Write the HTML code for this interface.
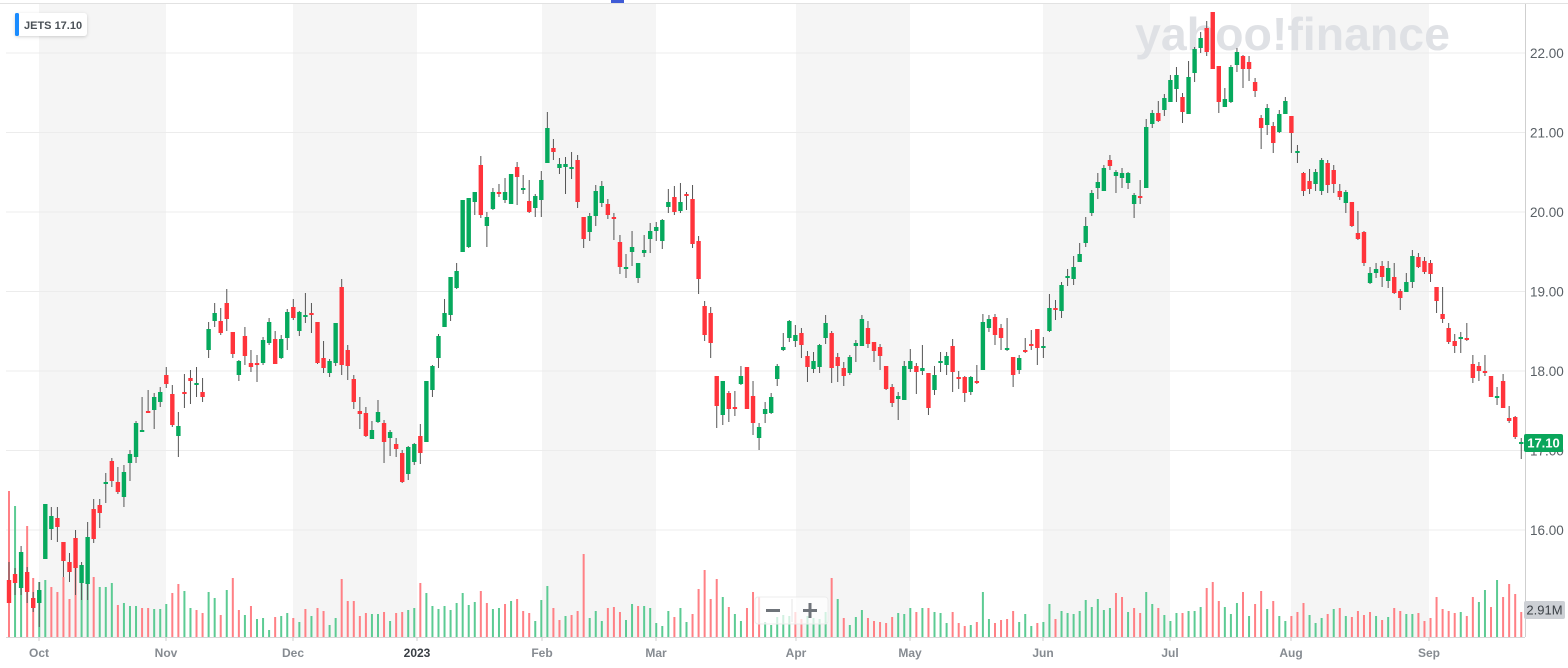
<!DOCTYPE html>
<html><head><meta charset="utf-8">
<style>
html,body{margin:0;padding:0;background:#fff;}
body{width:1568px;height:668px;overflow:hidden;position:relative;font-family:"Liberation Sans",sans-serif;}
svg{position:absolute;left:0;top:0;}
</style></head>
<body>
<svg width="1568" height="668" viewBox="0 0 1568 668" xmlns="http://www.w3.org/2000/svg">
<defs>
<filter id="sh" x="-20%" y="-40%" width="140%" height="180%"><feDropShadow dx="0" dy="1" stdDeviation="1.5" flood-color="#000" flood-opacity="0.18"/></filter>
</defs>
<rect x="0" y="0" width="1568" height="668" fill="#fff"/>
<g fill="#f5f5f5">
<rect x="39" y="4" width="127" height="633"/>
<rect x="293" y="4" width="124" height="633"/>
<rect x="542" y="4" width="114" height="633"/>
<rect x="796" y="4" width="114" height="633"/>
<rect x="1043" y="4" width="127" height="633"/>
<rect x="1291" y="4" width="138" height="633"/>
</g>
<g stroke="#ececec" stroke-width="1">
<line x1="6" x2="1525" y1="53" y2="53"/>
<line x1="6" x2="1525" y1="132.5" y2="132.5"/>
<line x1="6" x2="1525" y1="212" y2="212"/>
<line x1="6" x2="1525" y1="291.5" y2="291.5"/>
<line x1="6" x2="1525" y1="371" y2="371"/>
<line x1="6" x2="1525" y1="450.5" y2="450.5"/>
<line x1="6" x2="1525" y1="530" y2="530"/>
</g>
<text x="1135" y="50" font-size="46" font-weight="bold" fill="#dfe1e5" textLength="315" lengthAdjust="spacingAndGlyphs">yahoo!finance</text>
<line x1="0" x2="1568" y1="3.5" y2="3.5" stroke="#e2e2e2"/>
<rect x="611" y="0" width="13" height="3" fill="#3f5bd6"/>
<g id="vol"></g>
<g id="cdl"></g>
<line x1="1525.5" x2="1525.5" y1="4" y2="637" stroke="#cfcfcf"/>
<line x1="6" x2="1525" y1="637.5" y2="637.5" stroke="#d6d6d6"/>
<g stroke="#cfcfcf">
<line x1="39" x2="39" y1="637" y2="641"/>
<line x1="166" x2="166" y1="637" y2="641"/>
<line x1="293" x2="293" y1="637" y2="641"/>
<line x1="417" x2="417" y1="637" y2="641"/>
<line x1="542" x2="542" y1="637" y2="641"/>
<line x1="656" x2="656" y1="637" y2="641"/>
<line x1="796" x2="796" y1="637" y2="641"/>
<line x1="910" x2="910" y1="637" y2="641"/>
<line x1="1043" x2="1043" y1="637" y2="641"/>
<line x1="1170" x2="1170" y1="637" y2="641"/>
<line x1="1291" x2="1291" y1="637" y2="641"/>
<line x1="1429" x2="1429" y1="637" y2="641"/>
</g>
<g font-size="12" fill="#868b91" text-anchor="middle" font-weight="bold">
<text x="39" y="657">Oct</text>
<text x="166" y="657">Nov</text>
<text x="293" y="657">Dec</text>
<text x="417" y="657" fill="#3a3f45">2023</text>
<text x="542" y="657">Feb</text>
<text x="656" y="657">Mar</text>
<text x="796" y="657">Apr</text>
<text x="910" y="657">May</text>
<text x="1043" y="657">Jun</text>
<text x="1170" y="657">Jul</text>
<text x="1291" y="657">Aug</text>
<text x="1429" y="657">Sep</text>
</g>
<g font-size="13.5" fill="#5a6066">
<text x="1530" y="58">22.00</text>
<text x="1530" y="137.5">21.00</text>
<text x="1530" y="217">20.00</text>
<text x="1530" y="296.5">19.00</text>
<text x="1530" y="376">18.00</text>
<text x="1530" y="455.5">17.00</text>
<text x="1530" y="535">16.00</text>
</g>
<rect x="1524" y="434" width="39" height="18" rx="2" fill="#0aa65b"/>
<text x="1543.5" y="447.5" font-size="13" font-weight="bold" fill="#fff" text-anchor="middle">17.10</text>
<rect x="1524" y="601" width="41" height="18" rx="2" fill="#cdd0d5"/>
<text x="1544.5" y="614.5" font-size="13" fill="#3a3f45" text-anchor="middle">2.91M</text>
<rect x="755" y="597" width="73" height="27" rx="3" fill="#fff" fill-opacity="0.72" stroke="#ececec"/>
<line x1="792" x2="792" y1="599" y2="622" stroke="#e6e6e6"/>
<g fill="#6f747a">
<rect x="766" y="609" width="14" height="3"/>
<rect x="803" y="609" width="14" height="3"/>
<rect x="808.5" y="603" width="3" height="15"/>
</g>
<g filter="url(#sh)">
<rect x="15" y="13" width="72" height="23" rx="3" fill="#fff"/>
</g>
<rect x="15" y="13" width="4" height="23" rx="1.5" fill="#1a8cff"/>
<text x="24" y="29" font-size="11" font-weight="bold" fill="#4b5157">JETS 17.10</text>
</svg>
<script>
(function(){
var C=[
[562,580,603,603,0],[568,574,583,595,0],[546,552,588,595,1],[567,572,592,603,0],[592,598,608,612,0],
[582,590,603,627,1],[504,504,559,559,1],[507,516,529,540,1],[507,518,527,542,0],[542,542,561,577,0],
[553,562,572,582,0],[530,538,568,595,0],[562,565,583,600,1],[522,537,584,600,1],[499,509,539,543,0],
[499,505,513,528,0],[473,482,484,503,1],[458,461,481,487,0],[467,482,492,494,0],[465,472,497,507,1],
[450,454,463,481,1],[421,423,457,463,1],[397,430,431,431,1],[390,411,413,413,0],[393,397,410,429,1],
[387,392,402,407,1],[367,375,384,388,0],[385,394,425,427,0],[412,426,436,457,1],[374,392,394,408,0],
[370,378,381,404,0],[367,383,385,397,1],[378,392,397,402,0],[322,329,350,358,1],[303,313,321,327,1],
[308,321,333,335,0],[289,303,319,331,0],[332,332,354,358,0],[360,361,375,381,1],[327,336,356,365,0],
[350,363,367,372,0],[355,363,365,382,0],
[337,340,363,365,1],[318,322,343,345,1],[331,339,364,364,0],[335,339,358,359,1],[309,312,338,350,1],
[299,307,318,320,0],[311,312,331,336,1],[293,315,317,323,1],[303,313,315,333,0],[322,322,363,364,0],
[341,358,368,373,0],[359,361,373,377,1],[323,323,363,366,1],[279,287,365,375,0],[345,350,366,380,0],
[375,379,402,409,0],[397,411,414,429,0],[407,413,436,437,0],[421,430,439,439,1],[400,412,422,423,1],
[420,423,442,463,0],[430,432,438,456,1],[438,444,449,457,0],[450,453,482,483,0],[446,447,474,480,1],
[443,444,462,465,1],[424,436,453,464,0],[381,381,442,442,1],[365,366,390,397,1],[334,336,358,368,1],
[299,313,327,327,1],[277,277,315,321,1],[263,271,288,289,1],
[200,200,252,252,1],[198,198,247,248,1],[192,192,202,215,1],[156,165,215,218,0],[212,217,226,247,1],
[188,192,209,210,1],[184,192,193,197,0],[178,192,200,203,1],
[174,174,204,204,1],[162,167,177,205,0],[175,188,189,194,1],[180,201,212,213,0],[194,196,208,217,1],
[171,180,200,217,1],[112,128,163,163,1],[139,148,152,160,0],[158,164,168,174,1],[157,164,167,194,1],
[152,167,169,179,1],[155,160,202,208,0],[217,217,239,248,0],[213,216,232,241,1],[185,191,216,226,1],
[181,186,203,207,1],[199,204,215,219,0],[213,217,219,240,0],[235,242,267,274,0],[254,267,269,278,1],
[231,247,252,266,1],[263,263,278,283,1],[235,250,253,257,1],[223,231,239,253,1],[222,227,231,241,1],
[219,220,241,249,1],[189,202,207,213,1],[186,197,212,215,0],[183,202,211,213,1],[192,194,196,210,0],
[185,199,244,248,0],[236,241,279,294,0],[301,306,335,341,0],[307,313,343,358,0],[376,376,406,428,0],
[381,381,415,425,1],[391,393,409,422,0],[391,407,408,416,0],[366,376,384,385,1],[367,367,409,409,0],
[381,396,423,435,0],[423,427,438,450,1],[402,409,414,423,1],
[393,397,413,414,1],[364,366,379,386,1],[333,347,350,351,1],[320,321,338,342,1],[325,335,341,347,1],
[328,333,345,358,0],[351,356,367,382,0],[352,361,369,373,1],[344,345,367,373,1],[315,323,338,344,1],
[331,333,368,383,0],[353,357,366,382,0],[362,368,376,386,0],[355,357,373,375,1],[340,343,346,362,1],
[315,319,346,346,1],[321,328,344,348,0],[342,342,351,362,0],[344,347,356,370,0],[366,366,389,390,0],
[384,387,403,407,0],[392,396,399,420,1],[361,366,400,400,1],[349,361,369,372,1],[363,366,372,394,0],
[345,368,371,375,1],[373,373,408,415,0],[366,375,390,395,1],[352,361,363,372,1],[352,356,365,375,1],
[339,346,372,392,0],[371,377,379,389,0],[376,377,393,402,0],[376,377,392,395,1],[365,381,383,384,0],
[314,322,370,370,1],[315,319,328,332,1],[314,317,335,345,0],[324,328,338,350,0],[318,348,350,351,1],
[357,357,375,387,0],[355,358,370,374,1],[338,350,352,353,0],
[330,344,346,350,0],[329,329,348,365,0],[337,346,348,358,1],[294,308,331,332,1],[300,308,310,320,0],
[282,285,311,318,1],[269,276,278,286,1],[256,267,279,285,1],[243,254,262,262,1],[217,226,243,247,1],
[190,193,213,216,1],[173,182,188,199,1],[165,168,191,191,1],[155,160,166,170,0],[170,172,176,193,1],
[168,173,178,188,1],[172,173,183,189,1],[193,195,204,218,1],[180,196,198,204,0],[119,127,188,188,1],
[110,113,124,128,1],[101,113,121,122,0],[94,98,110,116,1],[75,80,102,102,1],[67,75,89,102,1],
[93,97,112,123,0],[61,77,114,114,1],[47,49,73,82,1],[32,38,48,53,1],[21,28,52,56,0],
[12,12,69,69,0],[66,66,102,113,0],[88,99,107,107,1],[65,67,102,103,1],[48,52,65,72,1],
[55,56,69,88,0],[56,62,69,81,0],[78,82,91,97,0],[115,118,128,149,0],[104,108,125,135,1],
[122,126,143,153,0],
[110,114,132,133,1],[97,101,114,114,1],[116,116,133,153,0],[145,151,153,163,1],[172,173,191,196,0],
[169,181,189,194,0],[169,172,184,191,1],[158,160,191,195,1],[160,163,185,193,0],[165,170,184,193,0],
[184,191,197,200,0],[190,192,203,213,1],[202,202,226,227,0],[211,233,239,240,0],[231,232,263,266,0],
[267,273,283,284,1],[263,269,273,278,1],[261,266,277,287,0],[261,268,281,288,1],[263,277,293,294,0],
[289,291,298,310,0],[273,282,292,292,1],[250,256,282,288,1],[253,257,267,268,0],[257,261,272,274,0],
[260,263,274,282,0],[287,287,301,313,0],[287,314,319,323,0],[323,328,342,344,0],[334,341,346,353,0],
[332,337,339,353,1],[323,338,339,341,0],[355,364,378,383,0],[362,366,371,381,0],[355,371,372,376,0],
[376,376,397,397,0],[387,396,398,405,1],[374,381,408,408,0],[406,418,421,423,0],[416,417,437,439,0],
[438,442,443,459,1]
];
var V=[
491,0,506,1,568,1,526,0,578,0,582,1,580,1,587,0,592,0,577,0,
599,0,568,0,582,1,553,1,577,0,587,1,587,1,583,1,605,0,603,1,
606,1,606,1,608,0,608,0,609,1,609,1,604,1,593,0,584,0,591,1,
608,1,610,0,613,0,592,1,598,1,615,0,590,1,578,0,610,0,615,1,
606,0,619,1,618,1,630,1,617,0,616,1,613,1,618,0,622,1,609,0,
616,1,608,0,611,0,625,1,618,1,579,0,601,0,601,0,616,0,613,0,
614,1,614,1,612,0,621,1,613,0,612,0,610,1,608,1,583,0,593,1,
606,1,609,1,606,1,610,1,603,1,593,1,605,1,602,1,591,0,603,0,
609,1,608,1,604,0,601,1,599,0,611,0,613,0,621,1,600,1,586,1,
608,0,620,0,616,1,615,0,611,0,554,0,618,1,611,1,621,1,608,0,
607,0,612,0,620,1,604,1,606,0,606,1,608,1,623,1,626,1,611,1,
617,0,608,1,622,1,614,0,589,0,570,0,599,0,579,0,597,1,607,0,
614,1,621,1,608,0,592,0,597,0,622,1,625,1,617,1,615,1,616,1,
612,0,619,0,616,1,618,1,619,1,612,1,578,0,599,1,618,0,625,1,
617,1,610,1,618,0,621,0,622,0,623,0,617,0,613,1,614,1,608,1,
612,0,608,1,608,0,612,1,613,1,623,1,612,0,623,0,626,0,625,1,
622,0,592,1,619,1,623,0,620,0,619,0,611,0,622,1,614,1,626,1,
623,0,622,1,604,1,619,0,611,1,613,1,614,1,611,1,600,1,607,1,
599,1,610,1,608,1,593,0,597,0,612,1,608,0,613,0,592,1,604,1,
608,0,615,1,621,1,613,1,613,0,611,1,611,1,607,1,588,0,582,0,
601,0,607,1,614,1,603,1,592,0,616,1,604,0,591,0,609,1,601,0,
616,1,621,1,616,0,612,0,603,0,615,1,623,1,618,1,614,0,609,1,
608,0,616,1,617,0,611,0,615,0,612,0,616,1,620,0,617,1,608,0,
611,0,614,1,614,1,613,0,621,0,618,0,597,0,609,0,611,0,613,0,
612,1,616,0,597,0,602,1,590,1,607,0,580,1,597,0,584,0,594,0,
612,0
];
function X(k){return 9+6.049*k;}
var s='';
for(var i=0;i<V.length;i+=2){
 var k=i/2,x=X(k);
 s+='<rect x="'+(x-1).toFixed(2)+'" y="'+V[i]+'" width="2" height="'+(637-V[i])+'" fill="'+(V[i+1]?'#5ccb93':'#ff8085')+'"/>';
}
document.getElementById('vol').innerHTML=s;
var t='';
for(var k=0;k<C.length;k++){
 var d=C[k],x=X(k),col=d[4]?'#06a95d':'#ff343b';
 t+='<rect x="'+(x-0.5).toFixed(2)+'" y="'+d[0]+'" width="1" height="'+Math.max(1,d[3]-d[0])+'" fill="#555"/>';
 var bb=Math.max(d[2],d[1]+2);
 t+='<rect x="'+(x-2.2).toFixed(2)+'" y="'+d[1]+'" width="4.4" height="'+(bb-d[1])+'" fill="'+col+'"/>';
}
document.getElementById('cdl').innerHTML=t;
})();
</script>
</body></html>
